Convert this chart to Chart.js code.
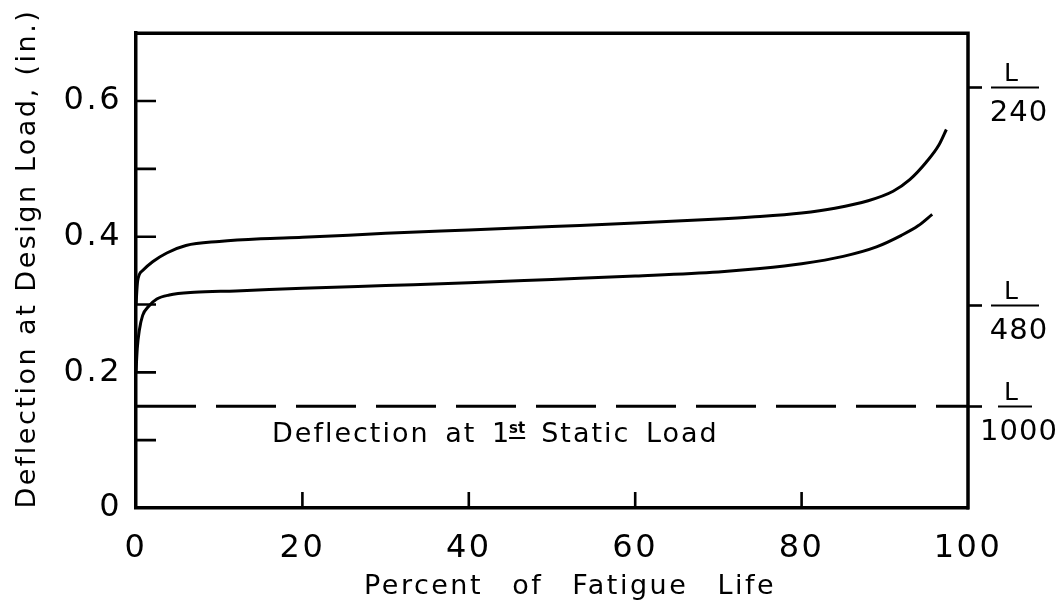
<!DOCTYPE html>
<html><head><meta charset="utf-8">
<script src="https://cdn.jsdelivr.net/npm/chart.js@4.4.0/dist/chart.umd.min.js"></script>
<style>html,body{margin:0;padding:0;background:#fff}canvas{display:block}</style>
</head><body>
<canvas id="c" width="1059" height="609"></canvas>
<script>
// ---- data ----
const upperPercent    = [0, 0.2, 0.8, 2, 3.7, 6, 10, 15, 20, 30, 40, 50, 60, 70, 74, 80, 84, 88, 91, 93, 95, 96.5, 97.4];
const upperDeflection = [0.30, 0.335, 0.35, 0.363, 0.376, 0.387, 0.393, 0.397, 0.399, 0.405, 0.41, 0.415, 0.42, 0.426, 0.429, 0.435, 0.442, 0.453, 0.467, 0.484, 0.51, 0.535, 0.558];
const lowerPercent    = [0, 0.15, 0.4, 0.8, 1.5, 2.5, 4, 7, 12, 20, 30, 40, 50, 60, 70, 75, 80, 85, 89, 92, 94, 95.7];
const lowerDeflection = [0.20, 0.235, 0.262, 0.284, 0.297, 0.308, 0.314, 0.318, 0.32, 0.324, 0.328, 0.332, 0.337, 0.342, 0.348, 0.353, 0.36, 0.371, 0.385, 0.402, 0.416, 0.433];
const staticPercent    = [0, 100];
const staticDeflection = [0.15, 0.15];
const xTickValues = [0, 20, 40, 60, 80, 100];
const yTickValues = [0, 0.2, 0.4, 0.6];
const yTickLabels = ['0', '0.2', '0.4', '0.6'];
const limitDeflection = [0.62, 0.30, 0.15];
const limitNumerator = ['L', 'L', 'L'];
const limitDenominator = ['240', '480', '1000'];
const noteMain = 'Deflection at 1';
const noteSup = 'st';
const noteRest = 'Static Load';
const xTitle = 'Percent of Fatigue Life';
const yTitle = 'Deflection at Design Load, (in.)';

const FONT = "'DejaVu Sans', sans-serif";
const toPts = (xs, ys) => xs.map((x, i) => ({x, y: ys[i]}));

const decor = {
  id: 'decor',
  afterUpdate(chart) {
    const xs = chart.scales.x, ys = chart.scales.y;
    const proto = Object.getPrototypeOf(xs);
    if (!xs._wrapped) {
      xs._wrapped = true;
      xs.drawTitle = function () {
        const c = this.ctx; c.save(); c.wordSpacing = '18px'; c.translate(18, 0);
        proto.drawTitle.call(this); c.restore();
      };
    }
    if (!ys._wrapped) {
      ys._wrapped = true;
      ys.drawTitle = function () {
        const c = this.ctx; c.save(); c.translate(0, -12);
        proto.drawTitle.call(this); c.restore();
      };
    }
  },
  beforeDraw(chart) {
    chart.ctx.letterSpacing = '2.5px';
  },
  afterDraw(chart) {
    const {ctx, chartArea: a, scales: {x, y}} = chart;
    ctx.save();
    ctx.letterSpacing = '0px';
    ctx.strokeStyle = '#000';
    ctx.fillStyle = '#000';
    ctx.lineCap = 'butt';
    // top and right frame
    ctx.lineWidth = 3.5;
    ctx.beginPath();
    ctx.moveTo(a.left - 1.5, a.top); ctx.lineTo(a.right, a.top); ctx.lineTo(a.right, a.bottom + 1.5);
    ctx.stroke();
    // inward ticks on the left axis
    ctx.lineWidth = 2.6;
    ctx.beginPath();
    y.ticks.forEach(t => {
      if (t.value <= 0) return;
      const py = y.getPixelForValue(t.value);
      ctx.moveTo(a.left, py); ctx.lineTo(a.left + 20, py);
    });
    // inward ticks on the bottom axis
    x.ticks.forEach(t => {
      if (t.value <= 0 || t.value >= 100) return;
      const px = x.getPixelForValue(t.value);
      ctx.moveTo(px, a.bottom); ctx.lineTo(px, a.bottom - 16);
    });
    ctx.stroke();
    // right-side deflection limits L/240, L/480, L/1000
    const cx = 1015;
    limitDeflection.forEach((v, i) => {
      const py = Math.round(y.getPixelForValue(v)) + 0.5;
      ctx.lineWidth = 2.6;
      ctx.beginPath();
      ctx.moveTo(a.right, py); ctx.lineTo(a.right + 14, py);
      ctx.stroke();
      const half = limitDenominator[i].length > 3 ? 17 : 24;
      ctx.lineWidth = 2.2;
      ctx.beginPath();
      ctx.moveTo(cx - half, py); ctx.lineTo(cx + half, py);
      ctx.stroke();
      ctx.font = `25px ${FONT}`;
      ctx.textAlign = 'center';
      ctx.textBaseline = 'alphabetic';
      ctx.fillText(limitNumerator[i], cx - 4, py - 7);
      ctx.font = `29px ${FONT}`;
      ctx.letterSpacing = '1px';
      ctx.fillText(limitDenominator[i], cx + 4, py + 33);
      ctx.letterSpacing = '0px';
    });
    // note under the static line
    ctx.textAlign = 'left';
    ctx.textBaseline = 'alphabetic';
    ctx.font = `27px ${FONT}`;
    ctx.letterSpacing = '2px';
    ctx.wordSpacing = '5px';
    const nx = 272, nb = 442;
    ctx.fillText(noteMain, nx, nb);
    const w1 = ctx.measureText(noteMain).width;
    const sx = nx + w1 - 2;
    ctx.font = `bold 15px ${FONT}`;
    ctx.letterSpacing = '0px';
    ctx.fillText(noteSup, sx, nb - 9);
    const ws = ctx.measureText(noteSup).width;
    ctx.lineWidth = 2;
    ctx.beginPath(); ctx.moveTo(sx, nb - 4); ctx.lineTo(sx + ws, nb - 4); ctx.stroke();
    ctx.font = `27px ${FONT}`;
    ctx.letterSpacing = '2px';
    ctx.fillText(noteRest, sx + ws + 16, nb);
    ctx.restore();
  }
};

new Chart(document.getElementById('c'), {
  type: 'scatter',
  data: {
    datasets: [
      {data: toPts(upperPercent, upperDeflection), showLine: true, borderColor: '#000', borderWidth: 3,
       pointRadius: 0, cubicInterpolationMode: 'monotone'},
      {data: toPts(lowerPercent, lowerDeflection), showLine: true, borderColor: '#000', borderWidth: 3,
       pointRadius: 0, cubicInterpolationMode: 'monotone'},
      {data: toPts(staticPercent, staticDeflection), showLine: true, borderColor: '#000', borderWidth: 3,
       borderDash: [60, 20], pointRadius: 0}
    ]
  },
  options: {
    responsive: false,
    animation: false,
    devicePixelRatio: 1,
    layout: {padding: {left: 0, top: 33, right: 91, bottom: 0}},
    plugins: {legend: {display: false}, tooltip: {enabled: false}},
    scales: {
      x: {
        type: 'linear', min: 0, max: 100,
        afterFit(s) { s.height = 101; },
        afterBuildTicks(s) { s.ticks = xTickValues.map(v => ({value: v})); },
        grid: {display: false, drawTicks: false},
        border: {display: true, color: '#000', width: 3.5},
        ticks: {color: '#000', font: {family: FONT, size: 32}, padding: 21, maxRotation: 0, autoSkip: false},
        title: {display: true, text: xTitle, color: '#000', font: {family: FONT, size: 27}, padding: {top: 0, bottom: 6}}
      },
      y: {
        type: 'linear', min: 0, max: 0.7,
        afterFit(s) { s.width = 136; },
        grid: {display: false, drawTicks: false},
        border: {display: true, color: '#000', width: 3.5},
        ticks: {
          stepSize: 0.1, autoSkip: false, color: '#000', font: {family: FONT, size: 32}, padding: 14,
          callback(v) {
            const i = yTickValues.findIndex(t => Math.abs(t - v) < 1e-6);
            return i >= 0 ? yTickLabels[i] : '';
          }
        },
        title: {display: true, text: yTitle, color: '#000', font: {family: FONT, size: 27}, padding: {top: 12, bottom: 0}}
      }
    }
  },
  plugins: [decor]
});
</script>
</body></html>
